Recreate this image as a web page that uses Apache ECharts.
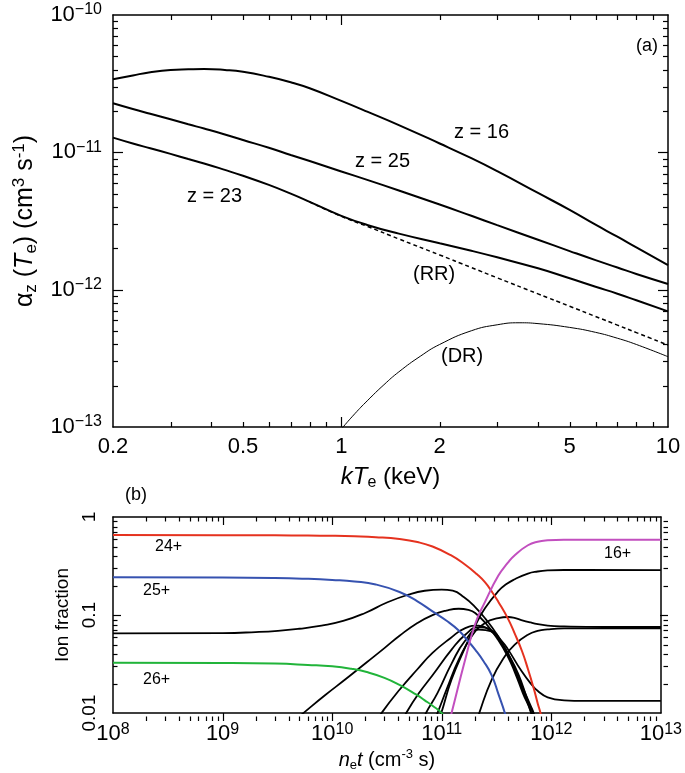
<!DOCTYPE html>
<html>
<head>
<meta charset="utf-8">
<script src="https://cdn.jsdelivr.net/npm/echarts@6.0.0/dist/echarts.min.js"></script>
<style>
html, body { margin: 0; padding: 0; background: #fff; }
#chart { width: 685px; height: 773px; }
</style>
</head>
<body>
<div id="chart"></div>
<script>
// ---- panel (a): rate coefficients vs kTe ----
var kT = [0.2, 0.23, 0.26, 0.3, 0.34, 0.38, 0.44, 0.5, 0.6, 0.7, 0.8, 1, 1.2, 1.5, 2, 2.5, 3, 4, 5, 6, 7, 8, 10];
var z16 = [3.40e-11, 3.63e-11, 3.83e-11, 3.98e-11, 4.02e-11, 4.04e-11, 3.98e-11, 3.86e-11, 3.55e-11, 3.24e-11, 2.93e-11, 2.37e-11,
           1.98e-11, 1.58e-11, 1.16e-11, 9.06e-12, 7.29e-12, 5.06e-12, 3.81e-12, 2.97e-12, 2.43e-12, 2.03e-12, 1.51e-12];
var z25 = [2.28e-11, 2.07e-11, 1.91e-11, 1.74e-11, 1.60e-11, 1.49e-11, 1.35e-11, 1.23e-11, 1.08e-11, 9.57e-12, 8.64e-12, 7.26e-12,
           6.30e-12, 5.27e-12, 4.17e-12, 3.45e-12, 2.95e-12, 2.31e-12, 1.91e-12, 1.64e-12, 1.45e-12, 1.30e-12, 1.10e-12];
var z23 = [1.28e-11, 1.16e-11, 1.07e-11, 9.74e-12, 8.94e-12, 8.30e-12, 7.45e-12, 6.75e-12, 5.79e-12, 5.00e-12, 4.36e-12, 3.45e-12,
           2.96e-12, 2.56e-12, 2.18e-12, 1.92e-12, 1.72e-12, 1.43e-12, 1.21e-12, 1.05e-12, 9.34e-13, 8.37e-13, 6.95e-13];
var kTrr = [0.8, 1, 1.2, 1.5, 2, 2.5, 3, 4, 5, 6, 7, 8, 10];
var rr = [4.35e-12, 3.42e-12, 2.89e-12, 2.34e-12, 1.79e-12, 1.45e-12, 1.22e-12, 9.32e-13, 7.57e-13, 6.38e-13, 5.52e-13, 4.87e-13, 3.95e-13];
var kTdr = [0.95, 1, 1.1, 1.2, 1.35, 1.5, 1.75, 2, 2.5, 3, 3.5, 4, 5, 6, 7, 8, 10];
var dr = [8.4e-14, 9.67e-14, 1.25e-13, 1.55e-13, 2.03e-13, 2.52e-13, 3.29e-13, 3.99e-13, 5.02e-13, 5.55e-13, 5.74e-13, 5.66e-13,
          5.31e-13, 4.89e-13, 4.43e-13, 3.99e-13, 3.25e-13];

var xLabelsA = [0.2, 0.5, 1, 2, 5, 10];
var xMajorA = [1];
var xMinorA = [0.3, 0.4, 0.5, 0.6, 0.7, 0.8, 0.9, 2, 3, 4, 5, 6, 7, 8, 9];
var yLabelsA = [1e-13, 1e-12, 1e-11, 1e-10];
var yMajorA = [1e-12, 1e-11];
var yMinorA = [2e-13, 3e-13, 4e-13, 5e-13, 6e-13, 7e-13, 8e-13, 9e-13,
               2e-12, 3e-12, 4e-12, 5e-12, 6e-12, 7e-12, 8e-12, 9e-12,
               2e-11, 3e-11, 4e-11, 5e-11, 6e-11, 7e-11, 8e-11, 9e-11];

// ---- panel (b): ion fractions vs net, [net, fraction] ----
var ion26 = [[1e8, 0.0327], [1e9, 0.0325], [3e9, 0.032], [6e9, 0.031], [1e10, 0.030], [1.5e10, 0.0283], [2.07e10, 0.0262], [3e10, 0.0229],
             [4.12e10, 0.0194], [5.82e10, 0.0155], [7e10, 0.0135], [8.24e10, 0.0119], [1e11, 0.01], [1.2e11, 0.0075]];
var ion25 = [[1e8, 0.243], [1e9, 0.242], [3e9, 0.239], [6e9, 0.234], [1e10, 0.228], [1.6e10, 0.22], [2.5e10, 0.205], [4.12e10, 0.172],
             [6e10, 0.138], [8.24e10, 0.109], [1.1e11, 0.088], [1.43e11, 0.0697], [1.7e11, 0.056], [2.02e11, 0.0444], [2.4e11, 0.034],
             [2.86e11, 0.0243], [3.3e11, 0.0155], [3.77e11, 0.01], [4.5e11, 0.005]];
var ion24 = [[1e8, 0.655], [1e9, 0.653], [3e9, 0.65], [6e9, 0.647], [1e10, 0.643], [1.6e10, 0.635], [2.5e10, 0.622], [4.12e10, 0.595],
             [6e10, 0.555], [8.24e10, 0.5], [1.2e11, 0.41], [1.64e11, 0.326], [2.1e11, 0.26], [2.49e11, 0.215], [2.9e11, 0.17],
             [3.28e11, 0.137], [4e11, 0.093], [4.64e11, 0.0646], [5.4e11, 0.043], [6.12e11, 0.0282], [6.9e11, 0.018], [7.54e11, 0.0124],
             [7.97e11, 0.01], [8.8e11, 0.006]];
var ion23 = [[1e8, 0.065], [1e9, 0.0655], [2e9, 0.067], [3.2e9, 0.069], [5e9, 0.0725], [8e9, 0.078], [1.26e10, 0.087], [2e10, 0.105],
             [3.2e10, 0.135], [5e10, 0.162], [7e10, 0.177], [1e11, 0.182], [1.26e11, 0.177], [1.6e11, 0.152], [2e11, 0.122],
             [2.5e11, 0.092], [3.2e11, 0.063], [4e11, 0.041], [5e11, 0.025], [6.12e11, 0.0133], [6.8e11, 0.01], [7.5e11, 0.006]];
var ion22 = [[4e9, 0.0075], [5.46e9, 0.01], [8.6e9, 0.0152], [1.35e10, 0.0225], [2.07e10, 0.033], [3e10, 0.046], [4.12e10, 0.0615],
             [6e10, 0.083], [8.24e10, 0.100], [1.1e11, 0.111], [1.43e11, 0.116], [1.75e11, 0.113], [2.02e11, 0.105], [2.6e11, 0.079],
             [3.28e11, 0.0556], [4e11, 0.038], [4.64e11, 0.0262], [5.5e11, 0.016], [6.56e11, 0.01], [7.2e11, 0.006]];
var ion21 = [[2.3e10, 0.007], [2.82e10, 0.01], [4.12e10, 0.0173], [6e10, 0.028], [8.24e10, 0.0411], [1.2e11, 0.058], [1.64e11, 0.0735],
             [2.17e11, 0.078], [2.7e11, 0.071], [3.28e11, 0.0577], [4e11, 0.041], [4.64e11, 0.028], [5.5e11, 0.017], [6.56e11, 0.01],
             [7.2e11, 0.006]];
var ion20 = [[4e10, 0.007], [4.73e10, 0.01], [6.2e10, 0.016], [8.24e10, 0.0243], [1.23e11, 0.0444], [1.64e11, 0.063], [2.17e11, 0.075],
             [2.86e11, 0.0697], [3.3e11, 0.058], [3.77e11, 0.0444], [4.4e11, 0.032], [5e11, 0.023], [6.56e11, 0.0115], [6.9e11, 0.01],
             [7.5e11, 0.006]];
var ion19 = [[6.2e10, 0.007], [7.17e10, 0.01], [9.14e10, 0.016], [1.23e11, 0.032], [1.64e11, 0.055], [2.17e11, 0.071], [2.86e11, 0.068],
             [3.5e11, 0.055], [4.04e11, 0.0444], [5.33e11, 0.027], [6.5e11, 0.02], [7.54e11, 0.0168], [9.27e11, 0.0145], [1.31e12, 0.0135],
             [2e12, 0.0133], [1e13, 0.0133]];
var ion18 = [[8e10, 0.007], [9.14e10, 0.01], [1.12e11, 0.018], [1.43e11, 0.035], [1.9e11, 0.062], [2.49e11, 0.083], [3.28e11, 0.093],
             [4.04e11, 0.0955], [4.7e11, 0.093], [5.33e11, 0.089], [6.5e11, 0.084], [7.54e11, 0.081], [9.27e11, 0.078], [1.31e12, 0.0765],
             [3e12, 0.0755], [1e13, 0.0755]];
var ion17 = [[8.8e10, 0.007], [9.9e10, 0.01], [1.23e11, 0.022], [1.64e11, 0.047], [2.02e11, 0.078], [2.49e11, 0.118], [3.28e11, 0.175],
             [3.9e11, 0.207], [4.64e11, 0.232], [6.12e11, 0.265], [7.5e11, 0.278], [9.27e11, 0.285], [1.3e12, 0.288], [2e12, 0.288],
             [1e13, 0.287]];
var ion16 = [[1.05e11, 0.005], [1.23e11, 0.01], [1.64e11, 0.0354], [2.02e11, 0.081], [2.49e11, 0.137], [3.28e11, 0.251], [4e11, 0.34],
             [4.64e11, 0.408], [6.12e11, 0.515], [7.5e11, 0.56], [9.27e11, 0.578], [1.3e12, 0.585], [2e12, 0.585], [1e13, 0.585]];
var ion15 = [[1.9e11, 0.006], [2.2e11, 0.01], [2.86e11, 0.022], [3.77e11, 0.038], [4.64e11, 0.05], [6.12e11, 0.063], [7.5e11, 0.069],
             [9.27e11, 0.0715], [1.31e12, 0.073], [2e12, 0.073], [1e13, 0.073]];

var xLabelsB = [1e8, 1e9, 1e10, 1e11, 1e12, 1e13];
var xMajorB = [1e9, 1e10, 1e11, 1e12];
var xMinorB = [];
var yLabelsB = [0.01, 0.1, 1];
var yMajorB = [0.1];
var yMinorB = [0.02, 0.03, 0.04, 0.05, 0.06, 0.07, 0.08, 0.09, 0.2, 0.3, 0.4, 0.5, 0.6, 0.7, 0.8, 0.9];
[1e8, 1e9, 1e10, 1e11, 1e12].forEach(function (d) {
    [2, 3, 4, 5, 6, 7, 8, 9].forEach(function (m) { xMinorB.push(m * d); });
});

var FONT = 'Liberation Sans, Arial, Helvetica, sans-serif';
var gridA = { left: 113, top: 15, width: 555, height: 412 };
var gridB = { left: 113, top: 517, width: 555, height: 204 };

function rich(size, sub) {
    return {
        sup: { fontSize: sub, verticalAlign: 'top', lineHeight: size + 4, fontFamily: FONT, color: '#000' },
        sub: { fontSize: sub, verticalAlign: 'bottom', lineHeight: size + 4, fontFamily: FONT, color: '#000' },
        it: { fontSize: size, fontStyle: 'italic', lineHeight: size + 4, fontFamily: FONT, color: '#000' }
    };
}

function expLabel(v) {
    var e = Math.round(Math.log10(v));
    return '10{sup|' + (e < 0 ? '\u2212' + (-e) : e) + '}';
}

// frame side: only the line, ticks are added afterwards
function side(grid, pos, min, max) {
    return {
        type: 'log', logBase: 10, gridIndex: grid, position: pos,
        min: min, max: max,
        axisLine: { show: true, onZero: false, lineStyle: { color: '#000', width: 1.5 } },
        axisTick: { show: false },
        axisLabel: { show: false },
        splitLine: { show: false },
        minorTick: { show: false },
        axisPointer: { show: false }
    };
}

var xA = side(0, 'bottom', 0.2, 10);
xA.axisLabel = {
    show: true, customValues: xLabelsA, fontSize: 22, fontFamily: FONT, color: '#000', margin: 9,
    formatter: function (v) { return String(v); }
};
xA.name = '{it|kT}{sub|e} (keV)';
xA.nameLocation = 'middle';
xA.nameGap = 24;
xA.nameTextStyle = { fontSize: 24, fontFamily: FONT, color: '#000', lineHeight: 28, rich: rich(24, 16) };

var yA = side(0, 'left', 1e-13, 1e-10);
yA.axisLabel = {
    show: true, customValues: yLabelsA, fontSize: 22, fontFamily: FONT, color: '#000', margin: 11,
    lineHeight: 26, formatter: expLabel, rich: rich(22, 16)
};
yA.name = '\u03b1{sub|z} ({it|T}{sub|e}) (cm{sup|3} s{sup|-1})';
yA.nameLocation = 'middle';
yA.nameRotate = 90;
yA.nameGap = 70;
yA.nameTextStyle = { fontSize: 25, fontFamily: FONT, color: '#000', lineHeight: 29, rich: rich(25, 17) };

var xB = side(1, 'bottom', 1e8, 1e13);
xB.axisLabel = {
    show: true, customValues: xLabelsB, fontSize: 22, fontFamily: FONT, color: '#000', margin: 8,
    lineHeight: 26, formatter: expLabel, rich: rich(22, 16)
};
xB.name = '{it|n}{sub|e}{it|t} (cm{sup|-3} s)';
xB.nameLocation = 'middle';
xB.nameGap = 30;
xB.nameTextStyle = { fontSize: 20, fontFamily: FONT, color: '#000', lineHeight: 24, rich: rich(20, 13) };

var yB = side(1, 'left', 0.01, 1);
yB.axisLabel = {
    show: true, customValues: yLabelsB, fontSize: 19, fontFamily: FONT, color: '#000', margin: 14,
    rotate: 90, formatter: function (v) { return String(v); }
};
yB.name = 'Ion fraction';
yB.nameLocation = 'middle';
yB.nameRotate = 90;
yB.nameGap = 34;
yB.nameTextStyle = { fontSize: 19, fontFamily: FONT, color: '#000' };

function curve(data, color, width, axis, dash) {
    return {
        type: 'line', data: data, xAxisIndex: axis, yAxisIndex: axis,
        showSymbol: false, smooth: 0.5, clip: true, silent: true,
        lineStyle: { color: color, width: width, type: dash || 'solid' }
    };
}
function pairs(xs, ys) { return xs.map(function (x, i) { return [x, ys[i]]; }); }

var RED = '#e5321f', BLUE = '#3652b0', GREEN = '#21b43a', MAG = '#c24fbf', BLK = '#000';

var chart = echarts.init(document.getElementById('chart'));
chart.setOption({
    animation: false,
    backgroundColor: '#fff',
    grid: [gridA, gridB],
    xAxis: [xA, side(0, 'top', 0.2, 10), xB, side(1, 'top', 1e8, 1e13)],
    yAxis: [yA, side(0, 'right', 1e-13, 1e-10), yB, side(1, 'right', 0.01, 1)],
    series: [
        curve(pairs(kT, z16), BLK, 2, 0),
        curve(pairs(kT, z25), BLK, 2, 0),
        curve(pairs(kT, z23), BLK, 2, 0),
        curve(pairs(kTrr, rr), BLK, 1.5, 0, [4, 3]),
        curve(pairs(kTdr, dr), BLK, 1, 0),

        curve(ion23, BLK, 1.8, 2),
        curve(ion22, BLK, 1.8, 2),
        curve(ion21, BLK, 1.8, 2),
        curve(ion20, BLK, 1.8, 2),
        curve(ion19, BLK, 1.8, 2),
        curve(ion18, BLK, 1.8, 2),
        curve(ion17, BLK, 1.8, 2),
        curve(ion15, BLK, 1.8, 2),
        curve(ion26, GREEN, 2, 2),
        curve(ion25, BLUE, 2, 2),
        curve(ion24, RED, 2, 2),
        curve(ion16, MAG, 2, 2)
    ]
});

// inward ticks on all four sides, placed through the axes' own scales
var marks = [];
function seg(x1, y1, x2, y2) {
    marks.push({ type: 'line', silent: true, shape: { x1: x1, y1: y1, x2: x2, y2: y2 },
                 style: { stroke: '#000', lineWidth: 1.2 } });
}
function xTicks(axis, grid, vals, len) {
    var top = grid.top, bottom = grid.top + grid.height;
    vals.forEach(function (v) {
        var px = Math.round(chart.convertToPixel({ xAxisIndex: axis }, v)) + 0.5;
        seg(px, bottom, px, bottom - len);
        seg(px, top, px, top + len);
    });
}
function yTicks(axis, grid, vals, len) {
    var left = grid.left, right = grid.left + grid.width;
    vals.forEach(function (v) {
        var py = Math.round(chart.convertToPixel({ yAxisIndex: axis }, v)) + 0.5;
        seg(left, py, left + len, py);
        seg(right, py, right - len, py);
    });
}
xTicks(0, gridA, xMajorA, 10);
xTicks(0, gridA, xMinorA, 5);
yTicks(0, gridA, yMajorA, 10);
yTicks(0, gridA, yMinorA, 5);
xTicks(2, gridB, xMajorB, 8);
xTicks(2, gridB, xMinorB, 4.5);
yTicks(2, gridB, yMajorB, 8);
yTicks(2, gridB, yMinorB, 4.5);

function label(text, left, top, size) {
    return { type: 'text', left: left, top: top, silent: true,
             style: { text: text, fontSize: size, fontFamily: FONT, fill: '#000' } };
}
var labels = [
    label('(a)', 636, 37, 18),
    label('z = 16', 454, 122, 20),
    label('z = 25', 355, 151, 20),
    label('z = 23', 187, 186, 20),
    label('(RR)', 413, 264, 20),
    label('(DR)', 441, 346, 20),
    label('(b)', 125, 486, 18),
    label('24+', 155, 539, 16),
    label('25+', 143, 583, 16),
    label('26+', 143, 672, 16),
    label('16+', 604, 546, 16)
];

chart.setOption({ graphic: labels.concat(marks) });
</script>
</body>
</html>
